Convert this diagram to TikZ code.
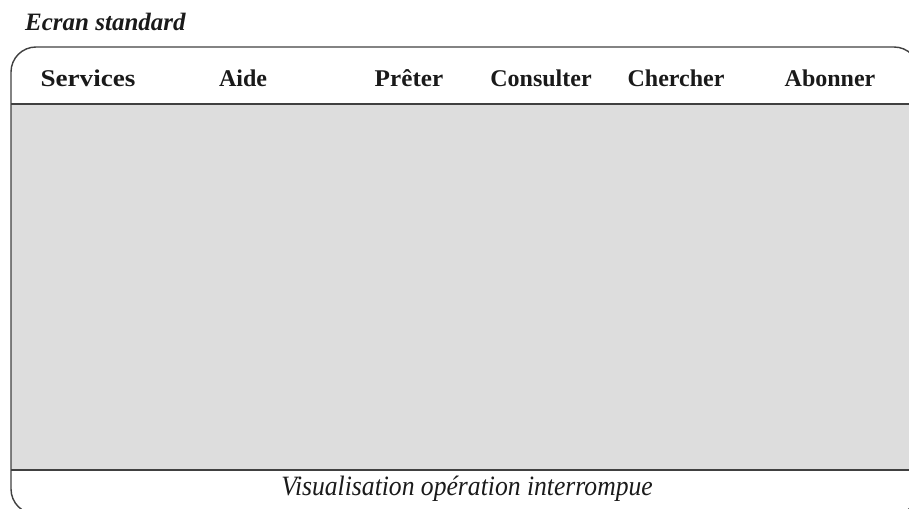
\documentclass[tikz,border=0pt]{standalone}
\usepackage{fontspec}
\setmainfont{Liberation Serif}
\definecolor{framec}{HTML}{404040}
\definecolor{panel}{HTML}{DDDDDD}
\definecolor{ink}{HTML}{1A1A1A}
\begin{document}
\begin{tikzpicture}[x=1pt,y=-1pt,
  menu/.style={font=\fontsize{24}{28}\selectfont\bfseries, text=ink, inner sep=0pt},
  title/.style={font=\fontsize{25}{29}\selectfont\bfseries\itshape, text=ink, inner sep=0pt, anchor=west},
  status/.style={font=\fontsize{28}{32}\selectfont\itshape, text=ink, inner sep=0pt},
  rule/.style={draw=framec, line width=1.6pt}]
\useasboundingbox (0,0) rectangle (909,508);
\begin{scope}
\clip (0,0) rectangle (909,508);
\fill[panel] (11,104) rectangle (919,470);
\draw[rule, line width=1.4pt, rounded corners=25pt] (11,47) rectangle (919,514);
\draw[rule] (11,104) -- (919,104);
\draw[rule] (11,470) -- (919,470);
\end{scope}
\node[title] (t) at (25,22) {Ecran standard};
\node[menu] (m1) at (88,78) {\scalebox{1.13}[1]{Services}};
\node[menu] (m2) at (243,78) {Aide};
\node[menu] (m3) at (409,78) {\scalebox{1.05}[1]{Prêter}};
\node[menu] (m4) at (541,78) {Consulter};
\node[menu] (m5) at (676,78) {Chercher};
\node[menu] (m6) at (830,78) {Abonner};
\node[status] (s) at (467,489) {\scalebox{0.915}[1]{Visualisation opération interrompue}};
\end{tikzpicture}
\end{document}
